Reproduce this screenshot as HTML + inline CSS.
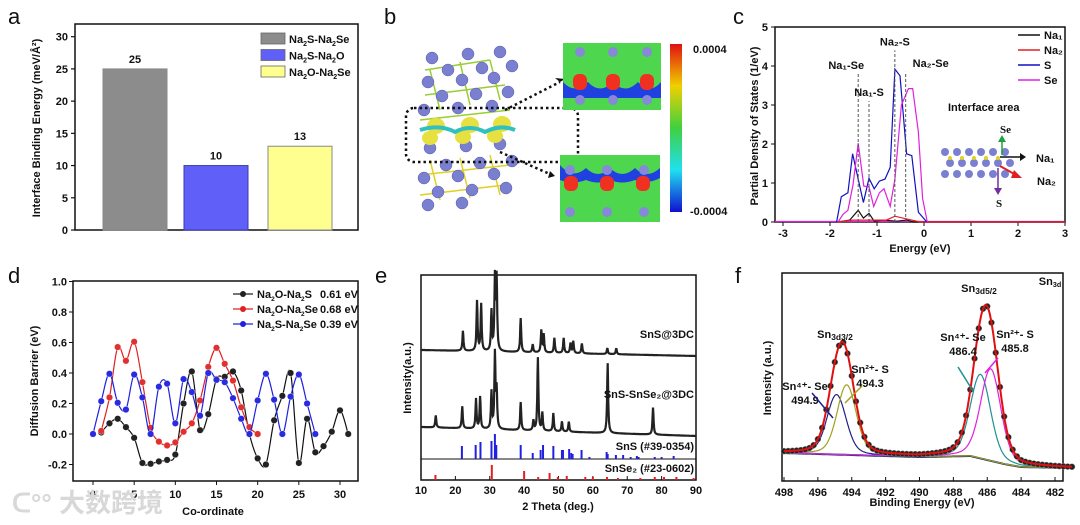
<!DOCTYPE html>
<html><head><meta charset="utf-8">
<style>
html,body{margin:0;padding:0;background:#fff;}
svg{display:block;font-family:"Liberation Sans","Noto Sans CJK SC",sans-serif;}
.t{font-weight:bold;font-size:11px;fill:#111;}
</style></head>
<body>
<svg id="fig" width="1080" height="525" viewBox="0 0 1080 525" xmlns="http://www.w3.org/2000/svg">
<rect width="1080" height="525" fill="#fff"/>
<text x="8" y="24" font-size="22" fill="#111">a</text>
<text x="384" y="24" font-size="22" fill="#111">b</text>
<text x="733" y="24" font-size="22" fill="#111">c</text>
<text x="8" y="283" font-size="22" fill="#111">d</text>
<text x="375" y="283" font-size="22" fill="#111">e</text>
<text x="735" y="283" font-size="22" fill="#111">f</text>

<g>
  <rect x="412" y="45" width="110" height="165" fill="#fff"/>
  <g stroke="#9acd32" stroke-width="1.5" fill="none">
    <path d="M425 70 L490 60 M425 95 L505 85 M420 120 L510 110 M430 70 L440 110 M460 62 L470 105 M490 60 L500 100"/>
  </g>
  <g stroke="#e0d020" stroke-width="1.5" fill="none">
    <path d="M420 175 L510 165 M420 195 L505 185 M430 160 L440 200 M460 158 L470 198 M490 155 L500 195"/>
  </g>
  <g fill="#7b7fd0" stroke="#5a5eb0" stroke-width="0.5">
    <circle cx="432" cy="58" r="6"/><circle cx="468" cy="54" r="6"/><circle cx="500" cy="52" r="6"/>
    <circle cx="448" cy="70" r="6"/><circle cx="482" cy="68" r="6"/><circle cx="512" cy="66" r="6"/>
    <circle cx="428" cy="82" r="6"/><circle cx="462" cy="80" r="6"/><circle cx="494" cy="78" r="6"/>
    <circle cx="442" cy="96" r="6"/><circle cx="476" cy="94" r="6"/><circle cx="508" cy="92" r="6"/>
    <circle cx="424" cy="110" r="6"/><circle cx="458" cy="108" r="6"/><circle cx="492" cy="106" r="6"/>
    <circle cx="430" cy="148" r="6"/><circle cx="466" cy="146" r="6"/><circle cx="500" cy="144" r="6"/>
    <circle cx="446" cy="165" r="6"/><circle cx="480" cy="163" r="6"/><circle cx="512" cy="161" r="6"/>
    <circle cx="424" cy="178" r="6"/><circle cx="458" cy="176" r="6"/><circle cx="494" cy="174" r="6"/>
    <circle cx="438" cy="192" r="6"/><circle cx="472" cy="190" r="6"/><circle cx="506" cy="188" r="6"/>
    <circle cx="428" cy="205" r="6"/><circle cx="462" cy="203" r="6"/>
  </g>
  <g fill="#e6e040">
    <ellipse cx="436" cy="126" rx="9" ry="8"/><ellipse cx="470" cy="125" rx="9" ry="8"/><ellipse cx="502" cy="124" rx="9" ry="8"/>
    <ellipse cx="430" cy="138" rx="8" ry="7"/><ellipse cx="463" cy="137" rx="8" ry="7"/><ellipse cx="495" cy="136" rx="8" ry="7"/>
  </g>
  <path d="M420 130 Q440 124 455 132 Q470 124 485 132 Q500 124 515 130" stroke="#30c0c0" stroke-width="4" fill="none"/>
  <rect x="406" y="108" width="172" height="54" rx="8" fill="none" stroke="#111" stroke-width="2.5" stroke-dasharray="2.5,3"/>
  <path d="M505 110 L560 82" stroke="#111" stroke-width="2.5" stroke-dasharray="2.5,3"/>
  <path d="M560 82 L555 78 L565 79 Z" fill="#111"/>
  <path d="M500 152 L552 175" stroke="#111" stroke-width="2.5" stroke-dasharray="2.5,3"/>
  <path d="M555 176 L548 178 L550 171 Z" fill="#111"/>
</g>
<g>
  <rect x="563" y="43" width="98" height="67" fill="#4fd64f"/>
  <path d="M563 82 Q575 95 588 82 Q600 95 613 82 Q625 95 638 82 Q650 95 661 82 L661 98 L563 98 Z" fill="#2040e0"/>
  <rect x="573" y="74" width="14" height="16" rx="6" fill="#f03020"/><rect x="606" y="74" width="14" height="16" rx="6" fill="#f03020"/><rect x="640" y="74" width="14" height="16" rx="6" fill="#f03020"/>
  <g fill="#8888d8"><circle cx="580" cy="52" r="5"/><circle cx="613" cy="52" r="5"/><circle cx="647" cy="52" r="5"/><circle cx="580" cy="100" r="5"/><circle cx="613" cy="100" r="5"/><circle cx="647" cy="100" r="5"/></g>
</g>
<g>
  <rect x="560" y="155" width="100" height="67" fill="#4fd64f"/>
  <path d="M560 165 Q573 180 586 168 Q598 180 610 168 Q622 180 635 168 Q647 180 660 168 L660 178 Q647 185 635 180 Q622 185 610 180 Q598 185 586 180 Q573 185 560 180 Z" fill="#2040e0"/>
  <rect x="564" y="176" width="14" height="15" rx="6" fill="#f03020"/><rect x="600" y="176" width="14" height="15" rx="6" fill="#f03020"/><rect x="636" y="176" width="14" height="15" rx="6" fill="#f03020"/>
  <g fill="#8888d8"><circle cx="570" cy="170" r="5"/><circle cx="607" cy="170" r="5"/><circle cx="644" cy="170" r="5"/><circle cx="570" cy="212" r="5"/><circle cx="607" cy="212" r="5"/><circle cx="644" cy="212" r="5"/></g>
</g>
<defs><linearGradient id="cb" x1="0" y1="0" x2="0" y2="1">
<stop offset="0" stop-color="#e01010"/><stop offset="0.25" stop-color="#f0d000"/><stop offset="0.5" stop-color="#40d040"/><stop offset="0.75" stop-color="#20e0f0"/><stop offset="1" stop-color="#1010d0"/></linearGradient></defs>
<rect x="670" y="44" width="12" height="168" fill="url(#cb)"/>
<text x="693" y="53" class="t" font-size="12">0.0004</text>
<text x="690" y="215" class="t" font-size="12">-0.0004</text>

<g id="gA"></g><g id="gC"></g><g id="gD"></g><g id="gE"></g><g id="gF"></g>

<text x="12" y="512" font-size="26" fill="#d8d8d8" font-weight="bold">ᑕ°° 大数跨境</text>
</svg>
<script>
const NS="http://www.w3.org/2000/svg";
function mk(p,tag,a,txt){const e=document.createElementNS(NS,tag);for(const k in a)e.setAttribute(k,a[k]);if(txt!==undefined)e.textContent=txt;p.appendChild(e);return e;}
function spline(pts){if(pts.length<2)return"";let d="M"+pts[0][0]+" "+pts[0][1];for(let i=0;i<pts.length-1;i++){const p0=pts[Math.max(0,i-1)],p1=pts[i],p2=pts[i+1],p3=pts[Math.min(pts.length-1,i+2)];const c1=[p1[0]+(p2[0]-p0[0])/6,p1[1]+(p2[1]-p0[1])/6],c2=[p2[0]-(p3[0]-p1[0])/6,p2[1]-(p3[1]-p1[1])/6];d+=" C"+c1[0].toFixed(1)+" "+c1[1].toFixed(1)+" "+c2[0].toFixed(1)+" "+c2[1].toFixed(1)+" "+p2[0].toFixed(1)+" "+p2[1].toFixed(1);}return d;}
function poly(pts){return "M"+pts.map(p=>p[0].toFixed(1)+" "+p[1].toFixed(1)).join(" L");}

// ---------- Panel a data ----------
const aCats=["Na2S-Na2Se","Na2S-Na2O","Na2O-Na2Se"];
const aVals=[25,10,13];
const aColors=["#8c8c8c","#6060f8","#ffff90"];
const aTicks=[0,5,10,15,20,25,30];
// ---------- Panel c data ----------
const cTicksX=[-3,-2,-1,0,1,2,3];
const cTicksY=[0,1,2,3,4,5];
const cE_S=[-1.86,-1.76,-1.62,-1.52,-1.40,-1.29,-1.17,-1.06,-0.95,-0.83,-0.72,-0.62,-0.51,-0.37,-0.26,-0.12,-0.01,0.06];
const cV_S=[0,0.65,0.75,1.75,1.1,0.5,1.12,0.85,1.05,1.1,1.4,3.92,3.75,1.75,1.7,0.25,0.1,0];
const cE_Se=[-1.83,-1.72,-1.62,-1.51,-1.40,-1.28,-1.17,-1.07,-0.95,-0.85,-0.72,-0.62,-0.48,-0.33,-0.24,-0.12,-0.03,0.07];
const cV_Se=[0,0.2,0.3,0.95,2.02,0.92,0.9,0.4,0.75,0.85,0.4,1.1,3.0,3.42,3.42,2.3,0.6,0];
const cE_Na1=[-1.83,-1.58,-1.40,-1.29,-1.17,-1.06,-0.87,-0.58,-0.37,-0.23,3];
const cV_Na1=[0,0.05,0.3,0.1,0.22,0.02,0.05,0.02,0.05,0,0];
const cE_Na2=[-1.83,-1.51,-0.80,-0.62,-0.37,-0.08,3];
const cV_Na2=[0,0.05,0.05,0.15,0.08,0,0];
const cMarkE=[-1.40,-1.17,-0.62,-0.39];
const cMarkY=[3.8,3.1,4.4,3.85];
const cMarkLbl=["Na₁-Se","Na₁-S","Na₂-S","Na₂-Se"];
// ---------- Panel d data ----------
const dTicksX=[0,5,10,15,20,25,30];
const dTicksY=[-0.2,0.0,0.2,0.4,0.6,0.8,1.0];
const dX_k=[1,2,3,4,5,6,7,8,9,10,11,12,13,14,15,16,17,18,19,20,21,22,23,24,25,26,27,28,29,30,31];
const dY_k=[0.01,0.07,0.10,0.045,-0.025,-0.19,-0.195,-0.18,-0.17,-0.135,0.2,0.41,0.025,0.13,0.36,0.375,0.41,0.285,0.0,-0.16,-0.2,0.09,0.25,0.40,-0.19,0.1,-0.12,-0.08,0.015,0.155,0.0];
const dX_r=[1,2,3,4,5,6,7,8,9,10,11,12,13,14,15,16,17,18,19,20];
const dY_r=[0.02,0.24,0.57,0.48,0.605,0.34,0.04,-0.05,-0.075,-0.055,0.015,0.07,0.22,0.44,0.565,0.46,0.35,0.175,0.045,0];
const dX_b=[0,1,2,3,4,5,6,7,8,9,10,11,12,13,14,15,16,17,18,19,20,21,22,23,24,25,26,27];
const dY_b=[0,0.215,0.395,0.205,0.16,0.39,0.24,0,0.31,0.33,0.07,0.36,0.275,0.12,0.40,0.355,0.34,0.235,0.10,0,0.22,0.395,0.225,0,0.245,0.39,0.2,0];
// ---------- Panel e data ----------
const eTicksX=[10,20,30,40,50,60,70,80,90];
const eSnS_pos=[22.2,26.3,27.5,30.5,31.5,32.0,39.0,42.5,45.0,45.7,48.8,51.5,53.5,54.3,56.8,64.2,66.8];
const eSnS_int=[20,50,47,40,72,72,34,8,22,18,15,15,10,12,10,6,6];
const eSSe_pos=[14.3,22.0,26.0,27.2,30.5,31.5,32.0,39.0,42.7,44.0,45.3,48.5,51.0,53.0,64.3,77.5];
const eSSe_int=[12,22,30,32,37,75,38,28,10,73,18,18,10,10,70,27];
const eRefS_pos=[21.9,25.9,27.3,30.5,31.5,31.9,39.0,42.5,44.8,45.5,48.5,51.0,51.3,53.1,53.7,54.1,56.7,59.0,64.0,64.3,66.7,68.8,71.0,72.8,73.3,78.0,80.0,83.5];
const eRefS_int=[13,14,17,18,25,14,14,6,9,14,13,9,9,10,6,5,9,2,7,5,4,4,2,3,2,2,2,3];
const eRefSe_pos=[14.2,30.6,40.0,44.1,47.4,49.8,52.4,57.8,60.0,64.1,67.3,73.8,78.0,80.7,84.3,89.3];
const eRefSe_int=[5,15,9,3,7,3,4,3,3,3,2,2,3,3,3,2];
// ---------- Panel f data ----------
const fTicksX=[498,496,494,492,490,488,486,484,482];
const fPeakE=[494.9,494.3,486.4,485.8];
const fPeakA=[60,70,84,92];
const fPeakW=[0.55,0.55,0.58,0.58];
const fPeakCol=["#20208a","#a0a020","#209090","#e020e0"];
const fBgE=[498,494,490,487,485,484,481];
const fBgV=[5,3,1,2,-6,-9,-10];

function axisBox(g,x0,y0,x1,y1,name){const r=mk(g,"rect",{x:x0,y:y0,width:x1-x0,height:y1-y0,fill:"none",stroke:"#111","stroke-width":1.5});}
function txt(g,x,y,s,attrs,name){const t=mk(g,"text",Object.assign({x:x,y:y,class:"t"},attrs||{}),s);return t;}

// ===== Panel a =====
(function(){const g=document.getElementById("gA");
const X0=75,X1=358,Y0=24,Y1=230;const ya=v=>230-v*(230-36.7)/30;
axisBox(g,X0,Y0,X1,Y1,"panel-a-plot-area");
aTicks.forEach(v=>{mk(g,"line",{x1:X0-4,x2:X0,y1:ya(v),y2:ya(v),stroke:"#111","stroke-width":1.2});txt(g,X0-7,ya(v)+4,String(v),{"text-anchor":"end","font-size":12},"a-y-tick-label");});
const bx=[103,184,268],bw=64;
aVals.forEach((v,i)=>{const r=mk(g,"rect",{x:bx[i],y:ya(v),width:bw,height:230-ya(v),fill:aColors[i],stroke:i==1?"#3a3ab0":"#888","stroke-width":1});


txt(g,bx[i]+bw/2,ya(v)-6,String(v),{"text-anchor":"middle","font-size":12},"bar-value-label");});
const lg=[["Na","2","S-Na","2","Se"],["Na","2","S-Na","2","O"],["Na","2","O-Na","2","Se"]];
lg.forEach((p,i)=>{const y=33+i*16.5;const r=mk(g,"rect",{x:261,y:y,width:24,height:11,fill:aColors[i],stroke:"#666","stroke-width":0.8});
const t=txt(g,289,y+10,"",{"font-size":11},"legend-entry");mk(t,"tspan",{},p[0]);mk(t,"tspan",{"font-size":7,dy:3},p[1]);mk(t,"tspan",{dy:-3},p[2]);mk(t,"tspan",{"font-size":7,dy:3},p[3]);mk(t,"tspan",{dy:-3},p[4]);});
txt(g,40,128,"Interface Binding Energy (meV/Å²)",{"text-anchor":"middle","font-size":12,transform:"rotate(-90 40 128)"},"a-y-axis-title");
})();

// ===== Panel c =====
(function(){const g=document.getElementById("gC");
const X0=775,X1=1065,Y0=27,Y1=222;const xc=e=>924+e*(X1-924)/3,yc=v=>Y1-v*39;
axisBox(g,X0,Y0,X1,Y1,"panel-c-plot-area");
cTicksX.forEach(v=>{mk(g,"line",{x1:xc(v),x2:xc(v),y1:Y1,y2:Y1+4,stroke:"#111"});txt(g,xc(v),Y1+15,String(v),{"text-anchor":"middle","font-size":12},"c-x-tick-label");});
cTicksY.forEach(v=>{mk(g,"line",{x1:X0-4,x2:X0,y1:yc(v),y2:yc(v),stroke:"#111"});txt(g,X0-7,yc(v)+4,String(v),{"text-anchor":"end","font-size":12},"c-y-tick-label");});
const series=[[cE_Na1,cV_Na1,"#111","na1-line"],[cE_Na2,cV_Na2,"#e02020","na2-line"],[cE_S,cV_S,"#1010c0","s-line"],[cE_Se,cV_Se,"#e020e0","se-line"]];
mk(g,"line",{x1:X0,x2:X1,y1:Y1-0.5,y2:Y1-0.5,stroke:"#e020e0","stroke-width":1.2});
series.forEach(s=>{const pts=s[0].map((e,i)=>[xc(e),yc(s[1][i])]);const p=mk(g,"path",{d:poly(pts),fill:"none",stroke:s[2],"stroke-width":1.2});});
cMarkE.forEach((e,i)=>{const l=mk(g,"line",{x1:xc(e),x2:xc(e),y1:Y1,y2:yc(cMarkY[i]),stroke:"#555","stroke-dasharray":"3,2"});
const off=i==3?25:(i==0?-12:0);txt(g,xc(e)+off,yc(cMarkY[i])-5,cMarkLbl[i],{"text-anchor":"middle","font-size":10},"peak-marker-label");});
const lg=[["Na₁","#111"],["Na₂","#e02020"],["S","#1010c0"],["Se","#e020e0"]];
lg.forEach((l,i)=>{const y=35+i*15;mk(g,"line",{x1:1018,x2:1040,y1:y,y2:y,stroke:l[1],"stroke-width":1.5});txt(g,1044,y+4,l[0],{"font-size":10},"legend-entry");});
txt(g,948,111,"Interface area",{"font-size":13},"interface-area-label");
const ig=mk(g,"g",{});
for(let r=0;r<3;r++)for(let c=0;c<6;c++)mk(ig,"circle",{cx:945+c*12+(r%2)*5,cy:152+r*11,r:4,fill:"#7b7fd0"});
for(let c=0;c<5;c++)mk(ig,"circle",{cx:950+c*12,cy:158,r:2,fill:"#e0d020"});
mk(ig,"line",{x1:1000,x2:1020,y1:157,y2:157,stroke:"#111","stroke-width":1.5});mk(ig,"path",{d:"M1020 153 L1026 157 L1020 161Z",fill:"#111"});
mk(ig,"line",{x1:1000,x2:1016,y1:166,y2:175,stroke:"#e02020","stroke-width":2});mk(ig,"path",{d:"M1014 170 L1022 178 L1011 178Z",fill:"#e02020"});
mk(ig,"line",{x1:1002,x2:1002,y1:155,y2:140,stroke:"#20a040","stroke-width":1.5});mk(ig,"path",{d:"M998 142 L1002 135 L1006 142Z",fill:"#20a040"});
mk(ig,"line",{x1:998,x2:998,y1:168,y2:190,stroke:"#7030a0","stroke-width":1.5});mk(ig,"path",{d:"M994 188 L998 195 L1002 188Z",fill:"#7030a0"});
txt(g,1000,133,"Se",{"font-size":10,fill:"#20a040","font-family":"Liberation Serif"},"inset-se-label");
txt(g,1036,162,"Na₁",{"font-size":13},"inset-na1-label");
txt(g,1037,185,"Na₂",{"font-size":13,fill:"#e02020"},"inset-na2-label");
txt(g,996,207,"S",{"font-size":10,fill:"#7030a0","font-family":"Liberation Serif"},"inset-s-label");
txt(g,920,252,"Energy (eV)",{"text-anchor":"middle","font-size":13},"c-x-axis-title");
txt(g,758,126,"Partial Density of States (1/eV)",{"text-anchor":"middle","font-size":12,transform:"rotate(-90 758 126)"},"c-y-axis-title");
})();

// ===== Panel d =====
(function(){const g=document.getElementById("gD");
const X0=73,X1=358,Y0=281,Y1=481;const xd=v=>93+v*(340-93)/30,yd=v=>434-v*152.5;
axisBox(g,X0,Y0,X1,Y1,"panel-d-plot-area");
dTicksX.forEach(v=>{mk(g,"line",{x1:xd(v),x2:xd(v),y1:Y1,y2:Y1+4,stroke:"#111"});txt(g,xd(v),Y1+17,String(v),{"text-anchor":"middle","font-size":12},"d-x-tick-label");});
dTicksY.forEach(v=>{mk(g,"line",{x1:X0-4,x2:X0,y1:yd(v),y2:yd(v),stroke:"#111"});txt(g,X0-6,yd(v)+4,v.toFixed(1),{"text-anchor":"end","font-size":12},"d-y-tick-label");});
const S=[[dX_k,dY_k,"#111","#222","na2o-na2s-series"],[dX_r,dY_r,"#e02020","#e03030","na2o-na2se-series"],[dX_b,dY_b,"#2020e0","#2a2ae0","na2s-na2se-series"]];
S.forEach(s=>{const pts=s[0].map((x,i)=>[xd(x),yd(s[1][i])]);const p=mk(g,"path",{d:spline(pts),fill:"none",stroke:s[2],"stroke-width":1.2});
pts.forEach(q=>{const c=mk(g,"circle",{cx:q[0],cy:q[1],r:3.3,fill:s[3],stroke:"#fff","stroke-width":0.4});});});
const lg=[[["Na","2","O-Na","2","S"],"0.61 eV","#222"],[["Na","2","O-Na","2","Se"],"0.68 eV","#e02020"],[["Na","2","S-Na","2","Se"],"0.39 eV","#2020e0"]];
lg.forEach((l,i)=>{const y=294+i*15;mk(g,"line",{x1:233,x2:253,y1:y,y2:y,stroke:l[2],"stroke-width":1.2});mk(g,"circle",{cx:243,cy:y,r:3,fill:l[2]});
const t=txt(g,257,y+4,"",{"font-size":10},"legend-entry");const p=l[0];mk(t,"tspan",{},p[0]);mk(t,"tspan",{"font-size":6.5,dy:3},p[1]);mk(t,"tspan",{dy:-3},p[2]);mk(t,"tspan",{"font-size":6.5,dy:3},p[3]);mk(t,"tspan",{dy:-3},p[4]);
txt(g,320,y+4,l[1],{"font-size":10},"legend-value");});
txt(g,213,515,"Co-ordinate",{"text-anchor":"middle","font-size":13},"d-x-axis-title");
txt(g,38,381,"Diffusion Barrier (eV)",{"text-anchor":"middle","font-size":12,transform:"rotate(-90 38 381)"},"d-y-axis-title");
})();

// ===== Panel e =====
(function(){const g=document.getElementById("gE");
const X0=421,X1=696,Y0=275,Y1=480;const xe=v=>X0+(v-10)*(X1-X0)/80;
axisBox(g,X0,Y0,X1,Y1,"panel-e-plot-area");
mk(g,"line",{x1:X0,x2:X1,y1:459,y2:459,stroke:"#111","stroke-width":1});
eTicksX.forEach(v=>{mk(g,"line",{x1:xe(v),x2:xe(v),y1:Y1,y2:Y1-4,stroke:"#111"});txt(g,xe(v),Y1+14,String(v),{"text-anchor":"middle","font-size":12},"e-x-tick-label");});
function trace(pos,int,b0,b1,name){const pts=[];for(let t=10;t<=90.001;t+=0.1){let y=b0+(b1-b0)*(t-10)/80;pos.forEach((c,i)=>{y-=int[i]/(1+((t-c)/0.18)**2);});pts.push([xe(t),y]);}
const p=mk(g,"path",{d:poly(pts),fill:"none",stroke:"#222","stroke-width":2.2});}
trace(eSnS_pos,eSnS_int,350,356,"sns-3dc-pattern");
trace(eSSe_pos,eSSe_int,427,436,"sns-snse2-3dc-pattern");
eRefS_pos.forEach((p,i)=>{const l=mk(g,"line",{x1:xe(p),x2:xe(p),y1:459,y2:459-eRefS_int[i],stroke:"#2020e0","stroke-width":2});});
eRefSe_pos.forEach((p,i)=>{const l=mk(g,"line",{x1:xe(p),x2:xe(p),y1:480,y2:480-eRefSe_int[i],stroke:"#e02020","stroke-width":2});});
txt(g,694,338,"SnS@3DC",{"text-anchor":"end","font-size":11,"font-weight":"normal"},"sns-3dc-label");
txt(g,694,398,"SnS-SnSe₂@3DC",{"text-anchor":"end","font-size":11,"font-weight":"normal"},"sns-snse2-label");
txt(g,694,450,"SnS (#39-0354)",{"text-anchor":"end","font-size":11,fill:"#2020e0"},"sns-reference-label");
txt(g,694,472,"SnSe₂ (#23-0602)",{"text-anchor":"end","font-size":11,fill:"#e02020"},"snse2-reference-label");
txt(g,558,510,"2 Theta (deg.)",{"text-anchor":"middle","font-size":12},"e-x-axis-title");
txt(g,411,378,"Intensity(a.u.)",{"text-anchor":"middle","font-size":12,transform:"rotate(-90 411 378)"},"e-y-axis-title");
})();

// ===== Panel f =====
(function(){const g=document.getElementById("gF");
const X0=782,X1=1063,Y0=273,Y1=481;const xf=e=>784+(498-e)*(1055-784)/16;
axisBox(g,X0,Y0,X1,Y1,"panel-f-plot-area");
fTicksX.forEach(v=>{mk(g,"line",{x1:xf(v),x2:xf(v),y1:Y1,y2:Y1-4,stroke:"#111"});txt(g,xf(v),Y1+15,String(v),{"text-anchor":"middle","font-size":12},"f-x-tick-label");});
function bg(e){for(let i=0;i<fBgE.length-1;i++){const a=fBgE[i],b=fBgE[i+1];if(e<=a&&e>=b){return 458-(fBgV[i]+(fBgV[i+1]-fBgV[i])*(a-e)/(a-b));}}return 458-fBgV[fBgV.length-1];}
function comp(k,e){const d=(e-fPeakE[k])/fPeakW[k];return fPeakA[k]*(0.75*Math.exp(-d*d/2)+0.25/(1+d*d*0.5));}
const bp=[],env=[],cs=[[],[],[],[]];
for(let e=498;e>=481-0.001;e-=0.05){const b=bg(e);bp.push([xf(e),b]);let s=0;for(let k=0;k<4;k++){const c=comp(k,e);s+=c;cs[k].push([xf(e),b-c]);}env.push([xf(e),b-s]);}
const bl=mk(g,"path",{d:poly(bp),fill:"none",stroke:"#1a2a60","stroke-width":2});
const names=["sn4-se-3d32-fit","sn2-s-3d32-fit","sn4-se-3d52-fit","sn2-s-3d52-fit"];
cs.forEach((c,k)=>{const p=mk(g,"path",{d:poly(c),fill:"none",stroke:fPeakCol[k],"stroke-width":1.2});});
for(let i=0;i<env.length;i+=5){const c=mk(g,"circle",{cx:env[i][0],cy:env[i][1],r:3,fill:"#222",stroke:"#888","stroke-width":0.5});}
const ev=mk(g,"path",{d:poly(env),fill:"none",stroke:"#e01010","stroke-width":2});
function sub(x,y,a,b,col,sz,name){const t=txt(g,x,y,"",{"font-size":sz,fill:col,"text-anchor":"middle"},name);mk(t,"tspan",{},a);mk(t,"tspan",{"font-size":sz*0.65,dy:2},b);return t;}
sub(835,338,"Sn","3d3/2","#e02020",13,"sn3d32-label");
sub(979,292,"Sn","3d5/2","#e02020",13,"sn3d52-label");
sub(1050,285,"Sn","3d","#111",11,"sn3d-label");
function lbl(x,y,top,val,col,name){const t=txt(g,x,y,"",{"font-size":11,fill:col,"text-anchor":"middle"},name);mk(t,"tspan",{},top);txt(g,x,y+14,val,{"font-size":11,fill:col,"text-anchor":"middle"},name+"-value");}
lbl(805,390,"Sn⁴⁺- Se","494.9","#20208a","sn4-se-label-1");
lbl(870,373,"Sn²⁺- S","494.3","#a0a020","sn2-s-label-1");
lbl(963,341,"Sn⁴⁺- Se","486.4","#209090","sn4-se-label-2");
lbl(1015,338,"Sn²⁺- S","485.8","#e020e0","sn2-s-label-2");
mk(g,"line",{x1:833,x2:812,y1:418,y2:393,stroke:"#20208a","stroke-width":1.5});
mk(g,"line",{x1:845,x2:862,y1:403,y2:386,stroke:"#a0a020","stroke-width":1.5});
mk(g,"line",{x1:973,x2:958,y1:391,y2:367,stroke:"#209090","stroke-width":1.5});
mk(g,"line",{x1:985,x2:998,y1:373,y2:358,stroke:"#e020e0","stroke-width":1.5});
txt(g,922,506,"Binding Energy (eV)",{"text-anchor":"middle","font-size":12},"f-x-axis-title");
txt(g,771,378,"Intensity (a.u.)",{"text-anchor":"middle","font-size":12,transform:"rotate(-90 771 378)"},"f-y-axis-title");
})();
</script>
</body></html>
